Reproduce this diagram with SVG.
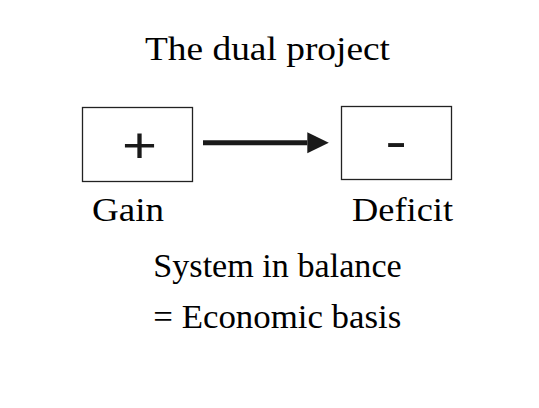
<svg xmlns="http://www.w3.org/2000/svg" width="539" height="408" viewBox="0 0 539 408">
<style>
.t{font-family:"Liberation Serif","Times New Roman",serif;font-size:33px;fill:#000}
.u{font-family:"Liberation Serif","Times New Roman",serif;font-size:34.3px;fill:#000}
.s{font-family:"Liberation Sans",Arial,sans-serif;font-size:50px;fill:#1a1a1a}
.box{fill:#fff;stroke:#222;stroke-width:1.3}
</style>
<defs>
<marker id="ah" markerUnits="userSpaceOnUse" markerWidth="22" markerHeight="22" refX="0" refY="10.5" orient="auto">
<path d="M0,0 L21.5,10.5 L0,21 Z" fill="#1a1a1a"/>
</marker>
</defs>
<rect width="539" height="408" fill="#fff"/>
<g id="title"><text class="t" x="145" y="59.5" textLength="245" lengthAdjust="spacingAndGlyphs">The dual project</text></g>
<g id="gain">
<rect class="box" x="82.5" y="107.5" width="110" height="74"/>
<text class="s" transform="translate(139.5,162) scale(1.2,1)" text-anchor="middle">+</text>
<text class="t" x="92" y="221.3" textLength="72" lengthAdjust="spacingAndGlyphs">Gain</text>
</g>
<g id="deficit">
<rect class="box" x="341.5" y="106.5" width="110" height="73"/>
<text class="s" transform="translate(396,157.7) scale(1.3,1)" text-anchor="middle">-</text>
<text class="t" x="352" y="221.3" textLength="101" lengthAdjust="spacingAndGlyphs">Deficit</text>
</g>
<g id="connectors">
<line x1="203" y1="142.7" x2="307.3" y2="142.7" stroke="#1a1a1a" stroke-width="5" marker-end="url(#ah)"/>
</g>
<g id="labels">
<text class="u" x="153.3" y="276.7" textLength="248.4" lengthAdjust="spacingAndGlyphs">System in balance</text>
<text class="u" x="153.3" y="328.4" textLength="248" lengthAdjust="spacingAndGlyphs">= Economic basis</text>
</g>
</svg>
